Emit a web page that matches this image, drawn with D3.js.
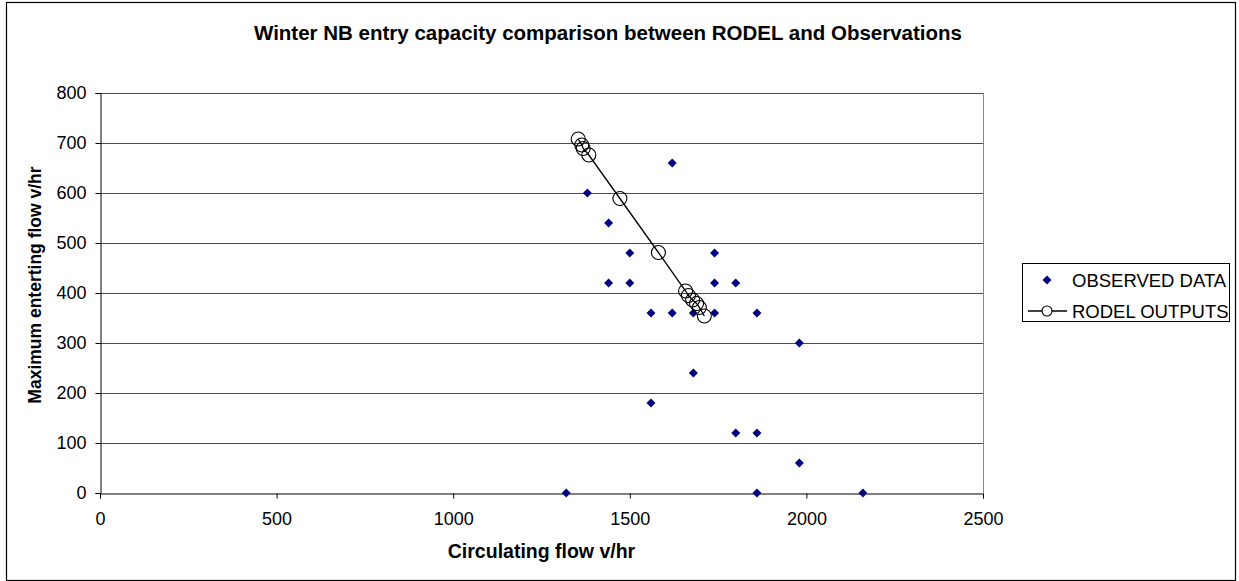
<!DOCTYPE html>
<html><head><meta charset="utf-8">
<script src="https://cdn.jsdelivr.net/npm/d3@7"></script>
<style>body{margin:0;background:#fff}svg{display:block;font-family:"Liberation Sans",Arial,sans-serif}</style>
</head><body><svg id="c" width="1239" height="581"></svg>
<script>
const title = "Winter NB entry capacity comparison between RODEL and Observations";
const xTitle = "Circulating flow v/hr";
const yTitle = "Maximum enterting flow v/hr";
const xTicks = [0, 500, 1000, 1500, 2000, 2500];
const yTicks = [0, 100, 200, 300, 400, 500, 600, 700, 800];
const seriesNames = ["OBSERVED DATA", "RODEL OUTPUTS"];
const obsX = [1620,1380,1440,1500,1740,1440,1500,1740,1800,1560,1620,1680,1740,1860,1980,1680,1560,1800,1860,1980,1320,1860,2160];
const obsY = [660,600,540,480,480,420,420,420,420,360,360,360,360,360,300,240,180,120,120,60,0,0,0];
const rodelX = [1354,1364,1368,1384,1472,1581,1658,1666,1678,1689,1697,1711];
const rodelY = [708,696,689,676,589,481,404,395,386,379,371,354];

const svg = d3.select("#c");
const x = d3.scaleLinear().domain([0,2500]).range([100,983]);
const y = d3.scaleLinear().domain([0,800]).range([493,93]);

// chart border
svg.append("rect").attr("x",6.5).attr("y",2.5).attr("width",1229).attr("height",578).attr("fill","none").attr("stroke","#000").attr("stroke-width",1.2);

// gridlines
svg.append("g").selectAll("line").data(yTicks.filter(d=>d>0)).join("line")
  .attr("x1",x(0)).attr("x2",x(2500)).attr("y1",d=>Math.round(y(d))+0.5).attr("y2",d=>Math.round(y(d))+0.5)
  .attr("stroke","#4a4a4a").attr("stroke-width",1);
// right border of plot
svg.append("line").attr("x1",x(2500)+0.5).attr("x2",x(2500)+0.5).attr("y1",y(800)).attr("y2",y(0)).attr("stroke","#888");

// axes
const xAxis = svg.append("g").attr("transform",`translate(0,${y(0)+0.5})`)
  .call(d3.axisBottom(x).tickValues(xTicks).tickSize(5).tickPadding(14).tickFormat(d3.format("d")));
const yAxis = svg.append("g").attr("transform",`translate(${x(0)+0.5},0)`)
  .call(d3.axisLeft(y).tickValues(yTicks).tickSize(5).tickPadding(9).tickFormat(d3.format("d")));
[xAxis,yAxis].forEach(g=>{
  g.select(".domain").attr("stroke","#000");
  g.selectAll(".tick line").attr("stroke","#000");
  g.selectAll("text").attr("font-family","Liberation Sans, Arial, sans-serif").attr("font-size",18).attr("fill","#000");
});

// titles
svg.append("text").attr("x",608).attr("y",40).attr("text-anchor","middle").attr("font-weight","bold").attr("font-size",20.5).text(title);
svg.append("text").attr("x",541.5).attr("y",558).attr("text-anchor","middle").attr("font-weight","bold").attr("font-size",19.5).text(xTitle);
svg.append("text").attr("transform","translate(41,285) rotate(-90)").attr("text-anchor","middle").attr("font-weight","bold").attr("font-size",17.5).text(yTitle);

// observed diamonds
const obs = obsX.map((v,i)=>({x:v,y:obsY[i]}));
svg.append("g").selectAll("path").data(obs).join("path")
  .attr("d", d3.symbol().type(d3.symbolSquare).size(40))
  .attr("transform",d=>`translate(${x(d.x)},${y(d.y)}) rotate(45)`)
  .attr("fill","#000080");

// RODEL line + circles
const rod = rodelX.map((v,i)=>({x:v,y:rodelY[i]}));
svg.append("path").datum(rod).attr("d",d3.line().x(d=>x(d.x)).y(d=>y(d.y)))
  .attr("fill","none").attr("stroke","#000").attr("stroke-width",1.3);
svg.append("g").selectAll("circle").data(rod).join("circle")
  .attr("cx",d=>x(d.x)).attr("cy",d=>y(d.y)).attr("r",7)
  .attr("fill","none").attr("stroke","#000").attr("stroke-width",1.1);

// legend
const lg = svg.append("g");
lg.append("rect").attr("x",1022.5).attr("y",263.5).attr("width",207).attr("height",58).attr("fill","#fff").attr("stroke","#000");
lg.append("path").attr("d",d3.symbol().type(d3.symbolSquare).size(40)).attr("transform","translate(1047,280) rotate(45)").attr("fill","#000080");
lg.append("text").attr("x",1072).attr("y",286.5).attr("font-size",18.5).text(seriesNames[0]);
lg.append("line").attr("x1",1028).attr("x2",1067).attr("y1",311).attr("y2",311).attr("stroke","#000").attr("stroke-width",1.3);
lg.append("circle").attr("cx",1047).attr("cy",311).attr("r",5).attr("fill","#fff").attr("stroke","#000").attr("stroke-width",1.1);
lg.append("text").attr("x",1072).attr("y",317.5).attr("font-size",18.5).text(seriesNames[1]);
</script></body></html>
